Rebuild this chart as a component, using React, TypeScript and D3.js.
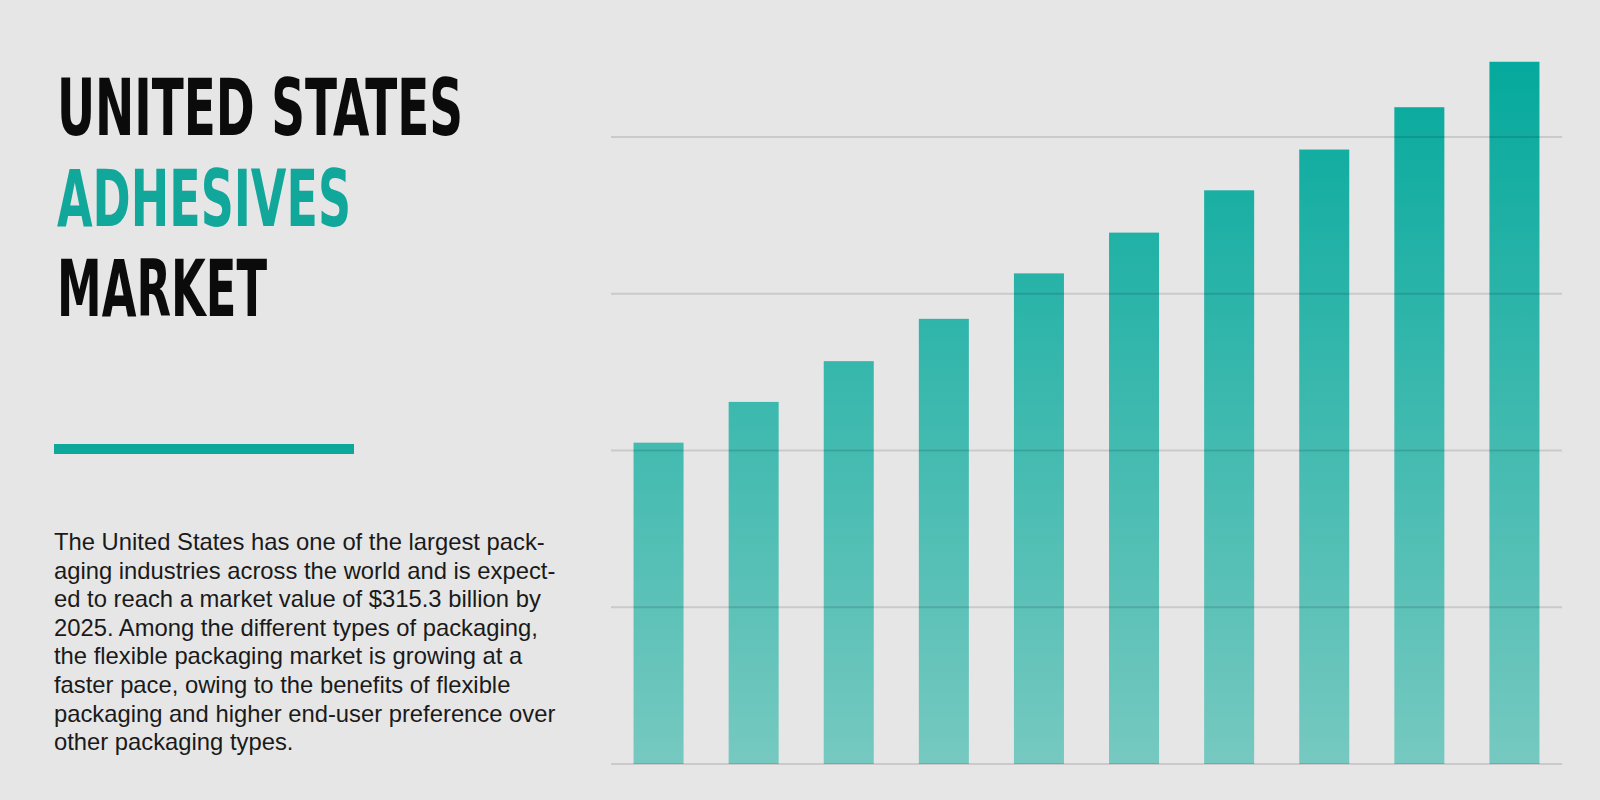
import React, { useEffect } from 'react';
import * as d3 from 'd3';

// market size index per year (gridline = 1 unit)
const years = ['2016', '2017', '2018', '2019', '2020', '2021', '2022', '2023', '2024', '2025'];
const values = [2.05, 2.31, 2.57, 2.84, 3.13, 3.39, 3.66, 3.92, 4.19, 4.48];
const gridTicks = [0, 1, 2, 3, 4];

const titleLines = [
  { text: 'UNITED STATES', color: '#0b0b0b', width: 406 },
  { text: 'ADHESIVES', color: '#12a79b', width: 294 },
  { text: 'MARKET', color: '#0b0b0b', width: 210 },
];

const paragraph = [
  'The United States has one of the largest pack-',
  'aging industries across the world and is expect-',
  'ed to reach a market value of $315.3 billion by',
  '2025. Among the different types of packaging,',
  'the flexible packaging market is growing at a',
  'faster pace, owing to the benefits of flexible',
  'packaging and higher end-user preference over',
  'other packaging types.',
];

const W = 1600;
const H = 800;

export default function App() {
  useEffect(() => {
    document.body.style.margin = '0';
  }, []);

  const x = d3.scaleBand<string>()
    .domain(years)
    .range([611, 1562])
    .paddingInner(0.474)
    .paddingOuter(0.237);

  const y = d3.scaleLinear()
    .domain([0, 4])
    .range([764, 137]);

  return (
    <svg width={W} height={H} style={{ display: 'block' }}>
      <defs>
        <linearGradient id="barFill" gradientUnits="userSpaceOnUse" x1="0" y1={y(4.48)} x2="0" y2={y(0)}>
          <stop offset="0%" stopColor="#05a99d" />
          <stop offset="100%" stopColor="#76c9c0" />
        </linearGradient>
      </defs>
      <rect width={W} height={H} fill="#e6e6e6" />

      {/* title */}
      {titleLines.map((l, i) => (
        <text
          key={l.text}
          x={57}
          y={135 + i * 90.5}
          fill={l.color}
          fontFamily="'Liberation Sans Narrow', 'DejaVu Sans Condensed', 'Liberation Sans', sans-serif"
          fontWeight="bold"
          fontSize={79}
          textLength={l.width}
          lengthAdjust="spacingAndGlyphs"
        >
          {l.text}
        </text>
      ))}

      <rect x={54} y={444} width={300} height={10} fill="#0ca89c" />

      {paragraph.map((line, i) => (
        <text
          key={i}
          x={54}
          y={550 + i * 28.6}
          fill="#1a1a1a"
          fontFamily="'Liberation Sans', Arial, sans-serif"
          fontSize={23.8}
        >
          {line}
        </text>
      ))}

      {/* bars */}
      {years.map((yr, i) => (
        <rect
          key={yr}
          x={x(yr)}
          y={y(values[i])}
          width={x.bandwidth()}
          height={y(0) - y(values[i])}
          fill="url(#barFill)"
        />
      ))}

      {/* grid lines over bars */}
      {gridTicks.map(t => (
        <line
          key={t}
          x1={611}
          x2={1562}
          y1={y(t)}
          y2={y(t)}
          stroke="#000"
          strokeOpacity={0.12}
          strokeWidth={2}
        />
      ))}
    </svg>
  );
}
